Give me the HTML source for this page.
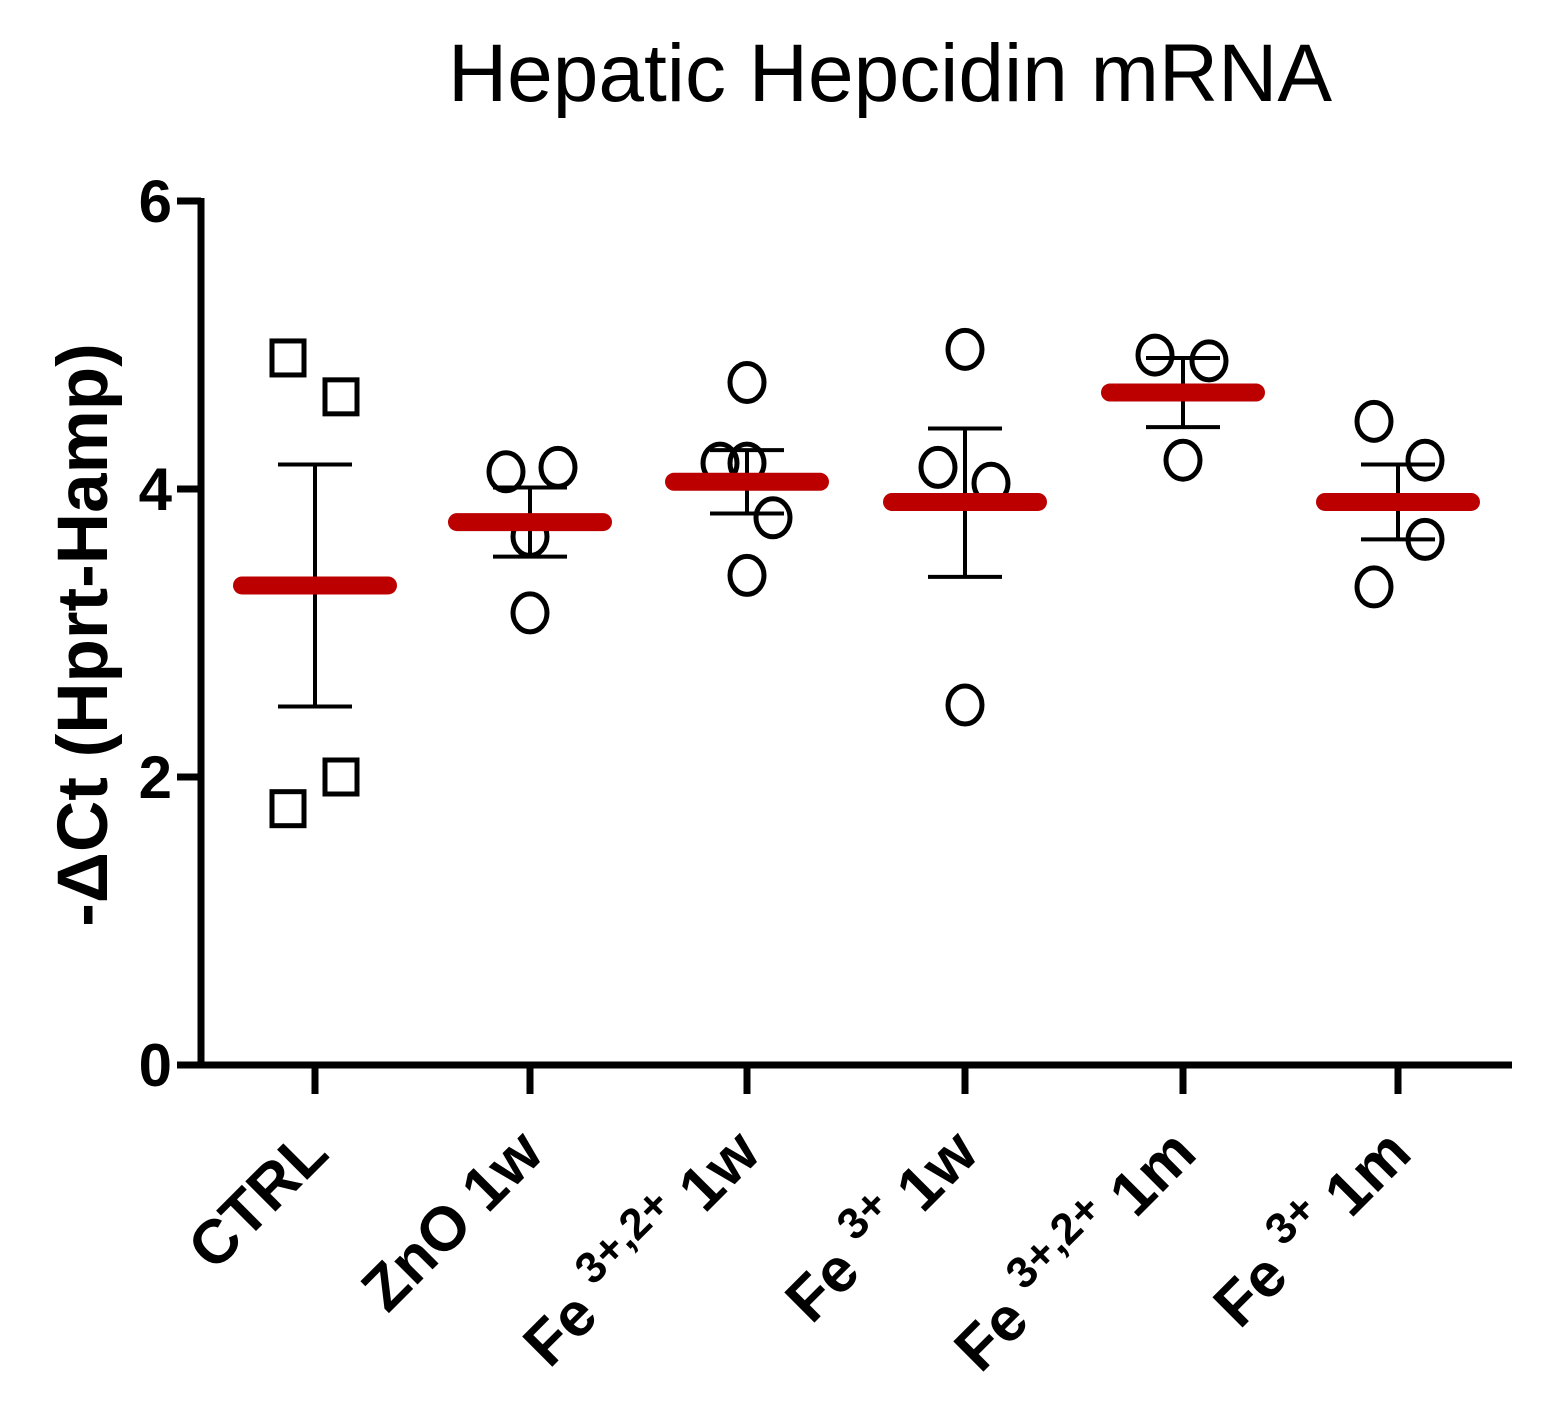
<!DOCTYPE html>
<html><head><meta charset="utf-8"><style>
html,body{margin:0;padding:0;background:#fff;}
svg{display:block;font-family:"Liberation Sans",Arial,sans-serif;}
</style></head><body>
<svg id="chart" width="1560" height="1426" viewBox="0 0 1560 1426">
<text x="890" y="101" font-size="82" text-anchor="middle">Hepatic Hepcidin mRNA</text>
<text transform="translate(107,635) rotate(-90)" font-size="71" font-weight="bold" text-anchor="middle">-ΔCt (Hprt-Hamp)</text>
<g id="axes"></g>
<g id="marks"></g>
</svg>
<script>
const categories = ["CTRL","ZnO 1w","Fe3+,2+ 1w","Fe3+ 1w","Fe3+,2+ 1m","Fe3+ 1m"];
const pointsCtrl = [4.91,4.64,2.0,1.78];
const pointsZnO = [4.12,4.15,3.67,3.14];
const pointsFe32w = [4.74,4.18,4.18,3.80,3.40];
const pointsFe3w = [4.97,4.15,4.04,2.50];
const pointsFe32m = [4.93,4.89,4.20];
const pointsFe3m = [4.47,4.20,3.65,3.32];
const means = [3.33,3.77,4.05,3.91,4.67,3.91];
const errHigh = [4.17,4.01,4.27,4.42,4.91,4.17];
const errLow = [2.49,3.53,3.83,3.39,4.43,3.65];
const yTicks = [0,2,4,6];
const allPoints = [pointsCtrl,pointsZnO,pointsFe32w,pointsFe3w,pointsFe32m,pointsFe3m];
const jitter = [[-27,26,26,-27],[-24,28,0,0],[0,-27,0,26,0],[0,-27,26,0],[-28,26,0],[-24,27,27,-24]];

const NS="http://www.w3.org/2000/svg";
const Y = v => 1065 - v*144;
const centers = [315,530,747,965,1183,1398];
const X = i => centers[i];
function mk(tag, attrs, parent){const e=document.createElementNS(NS,tag);for(const k in attrs)e.setAttribute(k,attrs[k]);parent.appendChild(e);return e;}
const axes=document.getElementById('axes'), marks=document.getElementById('marks');

let el=mk('line',{x1:201,y1:198,x2:201,y2:1068,stroke:'#000','stroke-width':7},axes);


el=mk('line',{x1:198,y1:1065,x2:1512,y2:1065,stroke:'#000','stroke-width':7},axes);


yTicks.forEach(t=>{
  let l=mk('line',{x1:177,y1:Y(t),x2:201,y2:Y(t),stroke:'#000','stroke-width':7},axes);
  
  
  let tx=mk('text',{x:172,y:Y(t)+21,'font-size':60,'font-weight':'bold','text-anchor':'end'},axes);
  tx.textContent=t;
  
  
});
const labelParts=[[["CTRL",0]],[["ZnO 1w",0]],[["Fe  ",0],["3+,2+",1],["  1w",0]],[["Fe  ",0],["3+",1],["  1w",0]],[["Fe  ",0],["3+,2+",1],["  1m",0]],[["Fe  ",0],["3+",1],["  1m",0]]];
categories.forEach((c,i)=>{
  let l=mk('line',{x1:X(i),y1:1065,x2:X(i),y2:1094,stroke:'#000','stroke-width':7},axes);
  
  
  let t=mk('text',{transform:`translate(${X(i)+16},1156) rotate(-45)`,'font-size':62,'font-weight':'bold','text-anchor':'end','xml:space':'preserve'},axes);
  
  
  labelParts[i].forEach(p=>{
    let s=mk('tspan',p[1]?{'font-size':44,dy:-28}:{dy:0},t);
    s.textContent=p[0];
    if(p[1]){s.setAttribute('data-after','1');}
  });
  const ts=t.querySelectorAll('tspan');
  ts.forEach((s,k)=>{ if(k>0 && ts[k-1].getAttribute('data-after')) s.setAttribute('dy',28); });
});
allPoints.forEach((arr,i)=>{
  arr.forEach((v,k)=>{
    const cx=X(i)+(jitter[i][k]||0), cy=Y(v);
    let m;
    if(i===0) m=mk('rect',{x:cx-16,y:cy-17,width:32,height:34,fill:'none',stroke:'#000','stroke-width':5},marks);
    else m=mk('ellipse',{cx:cx,cy:cy,rx:17,ry:19,fill:'none',stroke:'#000','stroke-width':5},marks);
    
    
  });
});
means.forEach((m,i)=>{
  let g=mk('path',{d:`M${X(i)} ${Y(errHigh[i])}V${Y(errLow[i])}M${X(i)-37} ${Y(errHigh[i])}H${X(i)+37}M${X(i)-37} ${Y(errLow[i])}H${X(i)+37}`,stroke:'#000','stroke-width':4,fill:'none'},marks);
  
  
  let b=mk('line',{x1:X(i)-73,y1:Y(m),x2:X(i)+73,y2:Y(m),stroke:'#BC0000','stroke-width':18,'stroke-linecap':'round'},marks);
  
  
});
</script>
</body></html>
